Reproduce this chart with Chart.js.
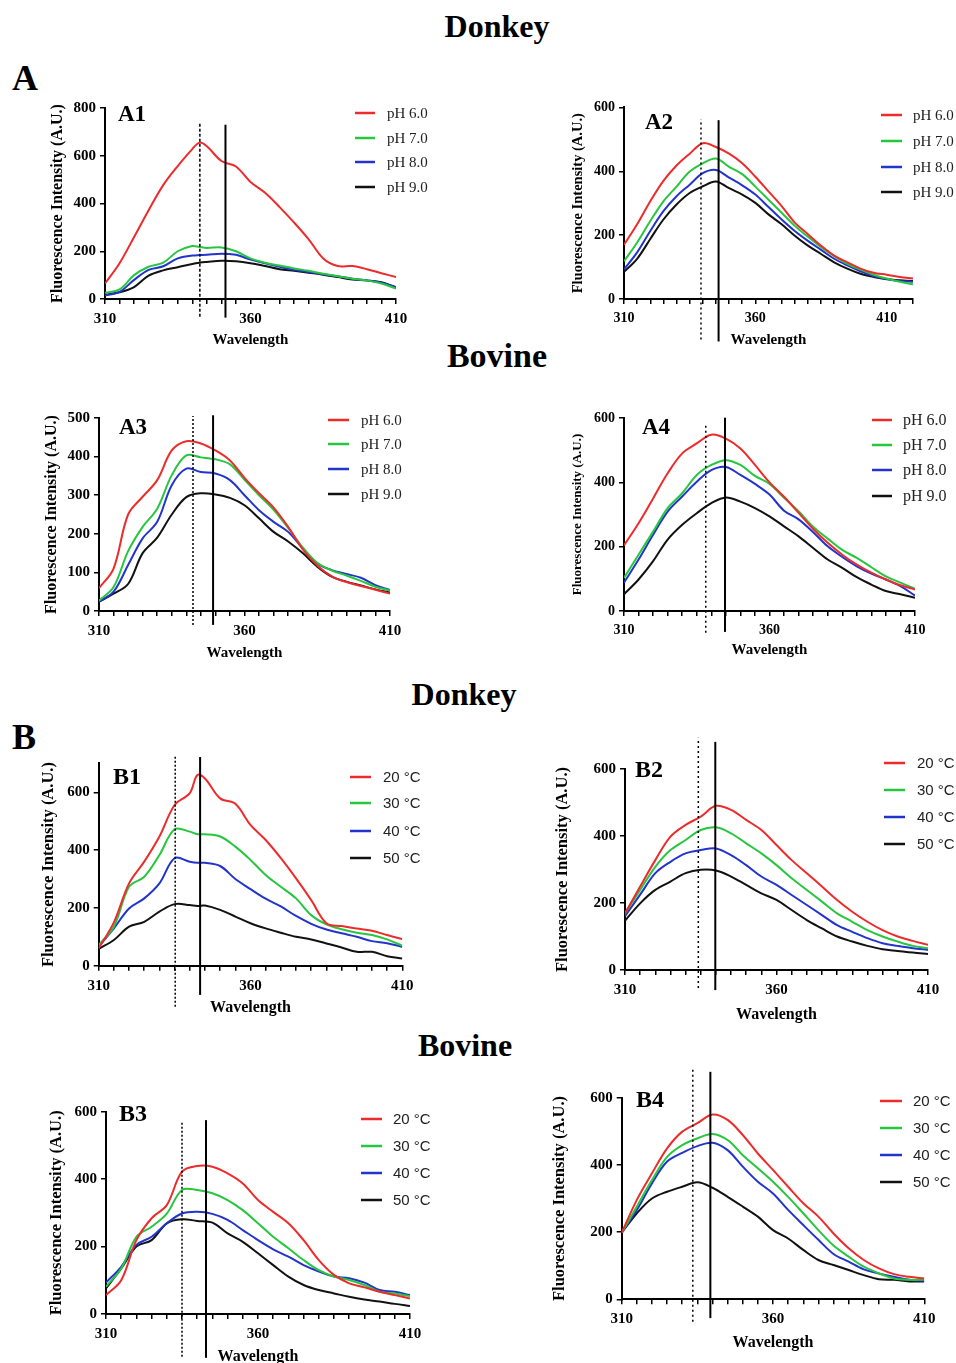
<!DOCTYPE html>
<html>
<head>
<meta charset="utf-8">
<script src="https://cdn.jsdelivr.net/npm/chart.js@4.4.0/dist/chart.umd.min.js"></script>
<style>
  body { margin: 0; width: 956px; height: 1363px; overflow: hidden; background: #fff; position: relative;
         font-family: 'Liberation Serif', 'Times New Roman', serif; }
  .head { position: absolute; font-weight: bold; line-height: 1; white-space: nowrap; color: #000; }
  .center { transform: translateX(-50%); }
  canvas { position: absolute; }
</style>
</head>
<body>
<div class="head center" style="left:497px; top:10px; font-size:32px;">Donkey</div>
<div class="head" style="left:12px; top:60px; font-size:36px;">A</div>
<div class="head center" style="left:497px; top:339px; font-size:34px;">Bovine</div>
<div class="head center" style="left:464px; top:678px; font-size:32px;">Donkey</div>
<div class="head" style="left:12px; top:719px; font-size:36px;">B</div>
<div class="head center" style="left:465px; top:1029px; font-size:32px;">Bovine</div>

<script>
// ================= data =================

// wavelength grids (nm)
const wl = [310, 315, 320, 325, 330, 335, 340, 345, 350, 355, 360, 365, 370, 375, 380, 385, 390, 395, 400, 405, 410];
const wlPeak = [310, 315, 320, 325, 330, 335, 340, 342.5, 345, 350, 355, 360, 365, 370, 375, 380, 385, 390, 395, 400, 405, 410];
const wlLong = [310, 315, 320, 325, 330, 335, 340, 345, 350, 355, 360, 365, 370, 375, 380, 385, 390, 395, 400, 405, 410, 415, 420];

const phNames = ['pH 6.0', 'pH 7.0', 'pH 8.0', 'pH 9.0'];
const tempNames = ['20 °C', '30 °C', '40 °C', '50 °C'];

// A1 donkey, pH
const a1Ph6 = [65, 150, 260, 372, 477, 557, 628, 655, 640, 578, 555, 490, 445, 385, 320, 250, 170, 138, 138, 125, 108, 92];
const a1Ph7 = [26, 40, 100, 135, 152, 200, 222, 218, 214, 216, 200, 170, 152, 140, 128, 118, 106, 95, 85, 78, 65, 44];
const a1Ph8 = [15, 30, 80, 122, 137, 170, 182, 184, 185, 190, 185, 165, 150, 135, 122, 113, 104, 95, 85, 78, 68, 50];
const a1Ph9 = [18, 28, 50, 98, 120, 133, 147, 152, 155, 160, 158, 150, 138, 125, 118, 110, 102, 92, 82, 78, 70, 47];

// A2 donkey, pH
const a2Ph6 = [170, 234, 306, 370, 418, 455, 488, 476, 455, 425, 383, 337, 291, 239, 203, 167, 136, 115, 95, 82, 76, 69, 64];
const a2Ph7 = [118, 177, 244, 306, 352, 399, 425, 440, 414, 391, 352, 311, 270, 229, 195, 162, 134, 110, 92, 76, 64, 54, 46];
const a2Ph8 = [93, 146, 213, 275, 322, 358, 394, 404, 380, 356, 327, 288, 249, 213, 182, 154, 126, 105, 87, 72, 63, 56, 54];
const a2Ph9 = [85, 126, 188, 249, 296, 332, 353, 368, 347, 327, 301, 265, 234, 198, 167, 141, 115, 95, 79, 69, 62, 59, 56];

// A3 bovine, pH
const a3Ph6 = [59, 110, 250, 296, 339, 416, 440, 434, 416, 390, 345, 305, 268, 218, 160, 118, 90, 75, 65, 55, 45];
const a3Ph7 = [27, 62, 155, 218, 265, 352, 403, 398, 393, 380, 340, 300, 262, 215, 165, 125, 105, 92, 78, 63, 53];
const a3Ph8 = [24, 50, 119, 188, 231, 326, 369, 360, 356, 339, 300, 261, 231, 205, 162, 123, 106, 96, 86, 67, 54];
const a3Ph9 = [24, 45, 70, 150, 190, 250, 295, 305, 302, 293, 274, 240, 205, 180, 150, 115, 89, 76, 66, 56, 48];

// A4 bovine, pH
const a4Ph6 = [204, 273, 350, 428, 490, 521, 548, 536, 505, 454, 400, 355, 305, 255, 212, 175, 144, 119, 98, 80, 67];
const a4Ph7 = [103, 175, 247, 320, 366, 423, 454, 469, 454, 420, 395, 352, 310, 262, 225, 190, 165, 136, 108, 88, 69];
const a4Ph8 = [88, 160, 237, 309, 356, 402, 438, 448, 423, 395, 362, 312, 285, 245, 201, 168, 139, 116, 98, 77, 48];
const a4Ph9 = [52, 98, 155, 222, 268, 304, 335, 353, 340, 320, 294, 263, 232, 196, 160, 134, 105, 82, 62, 52, 41];

// B1 donkey, temperature
const b1T20 = [60, 150, 285, 360, 447, 556, 597, 660, 648, 579, 560, 487, 435, 372, 302, 227, 147, 137, 129, 121, 106, 92];
const b1T30 = [72, 135, 273, 308, 383, 472, 464, 455, 455, 447, 412, 366, 314, 273, 233, 175, 143, 126, 114, 106, 91, 69];
const b1T40 = [66, 129, 198, 233, 285, 372, 360, 356, 356, 345, 300, 265, 232, 205, 172, 145, 125, 112, 100, 85, 78, 65];
const b1T50 = [58, 89, 135, 152, 187, 213, 210, 207, 208, 193, 170, 147, 129, 114, 100, 91, 77, 63, 48, 48, 33, 25];

// B2 donkey, temperature
const b2T20 = [169, 249, 328, 398, 433, 458, 490, 478, 448, 418, 373, 328, 289, 249, 209, 174, 144, 119, 100, 87, 75];
const b2T30 = [169, 239, 308, 358, 388, 418, 426, 408, 378, 348, 313, 274, 239, 204, 169, 144, 119, 100, 85, 72, 65];
const b2T40 = [161, 225, 289, 323, 348, 358, 363, 343, 313, 279, 254, 224, 194, 164, 134, 114, 95, 80, 72, 65, 60];
const b2T50 = [147, 199, 239, 264, 289, 299, 297, 279, 254, 229, 209, 179, 149, 124, 100, 85, 72, 62, 57, 52, 48];

// B3 bovine, temperature
const b3T20 = [56, 100, 219, 284, 323, 422, 439, 437, 417, 387, 338, 303, 269, 219, 160, 116, 91, 79, 66, 56, 46];
const b3T30 = [81, 135, 229, 259, 298, 368, 368, 358, 338, 308, 269, 229, 195, 160, 130, 111, 101, 86, 66, 61, 53];
const b3T40 = [93, 140, 205, 229, 269, 298, 303, 297, 279, 249, 219, 192, 170, 145, 126, 111, 106, 93, 71, 66, 56];
const b3T50 = [76, 135, 200, 219, 269, 281, 276, 271, 239, 214, 180, 145, 111, 86, 71, 61, 51, 43, 37, 30, 24];

// B4 bovine, temperature
const b4T20 = [198, 296, 375, 449, 499, 524, 550, 534, 489, 434, 385, 335, 286, 246, 196, 152, 117, 92, 75, 67, 62];
const b4T30 = [198, 276, 355, 424, 459, 479, 492, 474, 429, 390, 350, 305, 256, 206, 160, 127, 97, 77, 62, 58, 58];
const b4T40 = [198, 266, 345, 410, 436, 456, 466, 444, 395, 350, 315, 266, 221, 177, 135, 112, 89, 77, 67, 58, 55];
const b4T50 = [198, 256, 300, 320, 335, 348, 332, 305, 276, 246, 206, 181, 147, 117, 102, 87, 72, 60, 58, 53, 53];

// reference lines: wavelength and [bottom, top] extent in intensity units (dotted first, solid second)
const a1Marks = [342.6, 351.4]; const a1Span = [[-74, 738], [-78, 730]];
const a2Marks = [339.3, 346.0]; const a2Span = [[-127, 563], [-133, 560]];
const a3Marks = [342.3, 349.2]; const a3Span = [[-36, 505], [-36, 507]];
const a4Marks = [338.1, 344.7]; const a4Span = [[-68, 582], [-65, 601]];
const b1Marks = [335.2, 343.4]; const b1Span = [[-142, 723], [-101, 722]];
const b2Marks = [334.2, 339.8]; const b2Span = [[-54, 693], [-60, 681]];
const b3Marks = [335.0, 342.9]; const b3Span = [[-127, 573], [-130, 575]];
const b4Marks = [333.5, 339.3]; const b4Span = [[-67, 688], [-56, 677]];

// ticks
const xTicks = [310, 315, 320, 325, 330, 335, 340, 345, 350, 355, 360, 365, 370, 375, 380, 385, 390, 395, 400, 405, 410];
const xTicksLong = xTicks.concat([415, 420]);
const xLabels = [310, 360, 410];
const yTicks800 = [0, 200, 400, 600, 800];
const yTicks600 = [0, 200, 400, 600];
const yTicks500 = [0, 100, 200, 300, 400, 500];

// ================= style / layout =================
const lineColors = ['#ee2b2b', '#27c63f', '#2234cc', '#111111'];
const serif = "'Liberation Serif', 'Times New Roman', serif";
const sans = "'Liberation Sans', Arial, sans-serif";

const panels = [
  { label: 'A1', wl: wlPeak, series: [a1Ph6, a1Ph7, a1Ph8, a1Ph9], names: phNames, marks: a1Marks, span: a1Span,
    xmax: 410, xTicks: xTicks, ymax: 800, yTicks: yTicks800,
    canvas: [40, 95, 430, 255], plot: { L: 105, R: 396, T: 105, B: 299 }, dash: [3, 2],
    yTitle: { x: 58, size: 16 }, xTitle: { y: 340, size: 15 }, tickSize: 15,
    legend: { x0: 355, x1: 375, tx: 387, ys: [113, 138, 162, 187], size: 15, family: serif },
    tag: { x: 118, y: 114, size: 23 } },
  { label: 'A2', wl: wlLong, series: [a2Ph6, a2Ph7, a2Ph8, a2Ph9], names: phNames, marks: a2Marks, span: a2Span,
    xmax: 420, xTicks: xTicksLong, ymax: 600, yTicks: yTicks600,
    canvas: [565, 95, 391, 255], plot: { L: 624, R: 913, T: 105, B: 299 }, dash: [2, 3],
    yTitle: { x: 578, size: 14.5 }, xTitle: { y: 340, size: 15 }, tickSize: 14,
    legend: { x0: 881, x1: 902, tx: 913, ys: [115, 141, 167, 192], size: 15, family: serif },
    tag: { x: 645, y: 122, size: 23 } },
  { label: 'A3', wl: wl, series: [a3Ph6, a3Ph7, a3Ph8, a3Ph9], names: phNames, marks: a3Marks, span: a3Span,
    xmax: 410, xTicks: xTicks, ymax: 500, yTicks: yTicks500,
    canvas: [35, 405, 435, 260], plot: { L: 99, R: 390, T: 418, B: 611 }, dash: [2, 2],
    yTitle: { x: 52, size: 16 }, xTitle: { y: 653, size: 15 }, tickSize: 15,
    legend: { x0: 328, x1: 349, tx: 361, ys: [420, 444, 469, 494], size: 15, family: serif },
    tag: { x: 119, y: 427, size: 23 } },
  { label: 'A4', wl: wl, series: [a4Ph6, a4Ph7, a4Ph8, a4Ph9], names: phNames, marks: a4Marks, span: a4Span,
    xmax: 410, xTicks: xTicks, ymax: 600, yTicks: yTicks600,
    canvas: [565, 405, 391, 260], plot: { L: 624, R: 915, T: 418, B: 611 }, dash: [2, 3],
    yTitle: { x: 578, size: 13 }, xTitle: { y: 650, size: 15 }, tickSize: 14,
    legend: { x0: 872, x1: 892, tx: 903, ys: [420, 445, 470, 496], size: 16, family: serif },
    tag: { x: 642, y: 427, size: 23 } },
  { label: 'B1', wl: wlPeak, series: [b1T20, b1T30, b1T40, b1T50], names: tempNames, marks: b1Marks, span: b1Span,
    xmax: 410, xTicks: xTicks, ymax: 700, yTicks: yTicks600,
    canvas: [30, 745, 440, 275], plot: { L: 98.7, R: 402.3, T: 763.4, B: 965.7 }, dash: [2, 2],
    yTitle: { x: 49, size: 16.5 }, xTitle: { y: 1008, size: 16 }, tickSize: 15,
    legend: { x0: 350, x1: 371, tx: 383, ys: [777, 803, 831, 858], size: 15, family: sans },
    tag: { x: 113, y: 777, size: 24 } },
  { label: 'B2', wl: wl, series: [b2T20, b2T30, b2T40, b2T50], names: tempNames, marks: b2Marks, span: b2Span,
    xmax: 410, xTicks: xTicks, ymax: 600, yTicks: yTicks600,
    canvas: [545, 730, 411, 295], plot: { L: 625, R: 928, T: 769, B: 970 }, dash: [2, 3],
    yTitle: { x: 563, size: 16.5 }, xTitle: { y: 1015, size: 16 }, tickSize: 15,
    legend: { x0: 884, x1: 905, tx: 917, ys: [763, 790, 817, 844], size: 15, family: sans },
    tag: { x: 635, y: 770, size: 24 } },
  { label: 'B3', wl: wl, series: [b3T20, b3T30, b3T40, b3T50], names: tempNames, marks: b3Marks, span: b3Span,
    xmax: 410, xTicks: xTicks, ymax: 600, yTicks: yTicks600,
    canvas: [38, 1095, 432, 280], plot: { L: 106, R: 410, T: 1111.7, B: 1314 }, dash: [2, 2],
    yTitle: { x: 57, size: 16.5 }, xTitle: { y: 1356.7, size: 16 }, tickSize: 15,
    legend: { x0: 361, x1: 382, tx: 393, ys: [1119, 1146, 1173, 1200], size: 15, family: sans },
    tag: { x: 119, y: 1114, size: 24 } },
  { label: 'B4', wl: wl, series: [b4T20, b4T30, b4T40, b4T50], names: tempNames, marks: b4Marks, span: b4Span,
    xmax: 410, xTicks: xTicks, ymax: 600, yTicks: yTicks600,
    canvas: [540, 1060, 416, 303], plot: { L: 621.7, R: 924.3, T: 1097.7, B: 1299.3 }, dash: [2, 3],
    yTitle: { x: 560, size: 16.5 }, xTitle: { y: 1343, size: 16 }, tickSize: 15,
    legend: { x0: 880, x1: 902, tx: 913, ys: [1101, 1128, 1155, 1182], size: 15, family: sans },
    tag: { x: 636, y: 1100, size: 24 } }
];

// legend + panel tag, drawn in page coordinates shifted to the canvas
function decorPlugin(p) {
  const [cl, ct] = p.canvas;
  return {
    id: 'decor' + p.label,
    afterDraw(chart) {
      const ctx = chart.ctx;
      ctx.save();
      const curves = chart.data.datasets.filter(d => !d.isMark);
      curves.forEach((d, i) => {
        const y = p.legend.ys[i] - ct;
        ctx.strokeStyle = d.borderColor;
        ctx.lineWidth = 2.5;
        ctx.beginPath();
        ctx.moveTo(p.legend.x0 - cl, y);
        ctx.lineTo(p.legend.x1 - cl, y);
        ctx.stroke();
        ctx.fillStyle = '#222';
        ctx.font = p.legend.size + 'px ' + p.legend.family;
        ctx.textBaseline = 'middle';
        ctx.textAlign = 'left';
        ctx.fillText(d.label, p.legend.tx - cl, y + 1);
      });
      ctx.fillStyle = '#000';
      ctx.font = 'bold ' + p.tag.size + 'px ' + serif;
      ctx.textBaseline = 'middle';
      ctx.fillText(p.label, p.tag.x - cl, p.tag.y - ct + 1);
      ctx.restore();
    }
  };
}

function buildChart(p) {
  const [cl, ct, cw, ch] = p.canvas;
  const cv = document.createElement('canvas');
  cv.width = cw;
  cv.height = ch;
  cv.style.left = cl + 'px';
  cv.style.top = ct + 'px';
  document.body.appendChild(cv);

  const yAxisWidth = p.plot.L - cl;
  const xAxisHeight = ct + ch - p.plot.B;
  const yLh = p.yTitle.size * 1.2;
  const xLh = p.xTitle.size * 1.2;

  const datasets = [];
  // reference lines first so they sit on top of the curves
  p.marks.forEach((x, i) => {
    datasets.push({
      isMark: true,
      label: 'mark',
      data: [{ x: x, y: p.span[i][0] }, { x: x, y: p.span[i][1] }],
      borderColor: '#000',
      borderWidth: i === 0 ? 1.5 : 2,
      borderDash: i === 0 ? p.dash : [],
      clip: false,
      pointRadius: 0,
      tension: 0
    });
  });
  p.series.forEach((s, i) => {
    datasets.push({
      label: p.names[i],
      data: p.wl.map((x, k) => ({ x: x, y: s[k] })),
      borderColor: lineColors[i],
      borderWidth: 2,
      pointRadius: 0,
      tension: 0.35
    });
  });

  return new Chart(cv.getContext('2d'), {
    type: 'line',
    data: { datasets: datasets },
    options: {
      responsive: false,
      animation: false,
      devicePixelRatio: 1,
      layout: { padding: { left: 0, top: p.plot.T - ct, right: cl + cw - p.plot.R, bottom: 0 } },
      plugins: { legend: { display: false }, tooltip: { enabled: false } },
      scales: {
        x: {
          type: 'linear',
          min: 310,
          max: p.xmax,
          afterBuildTicks: s => { s.ticks = p.xTicks.map(v => ({ value: v })); },
          afterFit: s => { s.height = xAxisHeight; },
          ticks: {
            autoSkip: false,
            maxRotation: 0,
            padding: 6,
            color: '#000',
            font: { family: serif, weight: 'bold', size: p.tickSize },
            callback: v => (xLabels.includes(v) ? String(v) : '')
          },
          grid: { drawOnChartArea: false, tickLength: 5, color: '#000', lineWidth: 1.5 },
          border: { color: '#000', width: 2 },
          title: {
            display: true,
            text: 'Wavelength',
            color: '#000',
            font: { family: serif, weight: 'bold', size: p.xTitle.size, lineHeight: 1.2 },
            padding: { top: 0, bottom: Math.max(0, ct + ch - p.xTitle.y - xLh / 2) }
          }
        },
        y: {
          min: 0,
          max: p.ymax,
          afterBuildTicks: s => { s.ticks = p.yTicks.map(v => ({ value: v })); },
          afterFit: s => { s.width = yAxisWidth; },
          ticks: {
            padding: 4,
            color: '#000',
            font: { family: serif, weight: 'bold', size: p.tickSize }
          },
          grid: { drawOnChartArea: false, tickLength: 5, color: '#000', lineWidth: 1.5 },
          border: { color: '#000', width: 2 },
          title: {
            display: true,
            text: 'Fluorescence Intensity (A.U.)',
            color: '#000',
            font: { family: serif, weight: 'bold', size: p.yTitle.size, lineHeight: 1.2 },
            padding: { top: Math.max(0, p.yTitle.x - cl - yLh / 2), bottom: 0 }
          }
        }
      }
    },
    plugins: [decorPlugin(p)]
  });
}

panels.forEach(buildChart);
</script>
</body>
</html>
